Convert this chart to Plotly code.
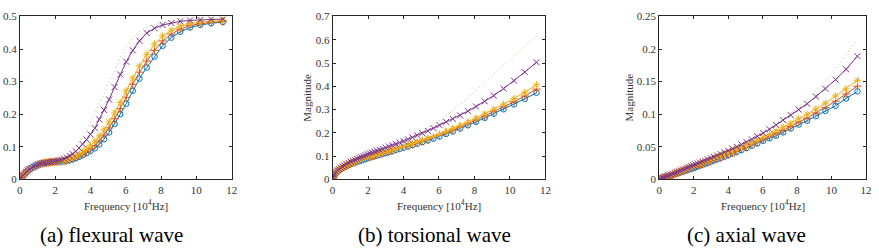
import plotly.graph_objects as go

# ---------------- data ----------------
freq = [0.01, 0.03, 0.07, 0.13, 0.2, 0.28, 0.36, 0.45, 0.55, 0.66, 0.78, 0.9, 1.02, 1.14, 1.26, 1.38,
        1.5, 1.62, 1.74, 1.86, 1.98, 2.1, 2.23, 2.37, 2.51, 2.66, 2.82, 2.99, 3.17, 3.36, 3.56, 3.78,
        4.0, 4.25, 4.5, 4.77, 5.06, 5.37, 5.69, 6.03, 6.4, 6.78, 7.19, 7.63, 8.09, 8.58, 9.09, 9.64,
        10.23, 10.84, 11.5]
freq_dotted = [0, 0.25, 0.5, 0.75, 1, 1.5, 2, 2.5, 3, 3.5, 4, 4.5, 5, 5.5, 6, 6.5, 7, 7.5, 8, 8.5,
               9, 9.5, 10, 10.5, 11, 11.5]

# (a) flexural wave
flex_blue = [0.001, 0.002, 0.005, 0.009, 0.013, 0.018, 0.023, 0.027, 0.031, 0.035, 0.039, 0.042, 0.045,
             0.047, 0.049, 0.05, 0.051, 0.052, 0.053, 0.053, 0.054, 0.054, 0.055,
             0.055, 0.056, 0.057, 0.059, 0.062, 0.065, 0.069, 0.074, 0.08, 0.087, 0.095, 0.107, 0.123,
             0.144, 0.17, 0.2, 0.232, 0.272, 0.309, 0.343, 0.377, 0.41, 0.435, 0.453, 0.466, 0.474,
             0.479, 0.483]
flex_red = [0.001, 0.002, 0.005, 0.009, 0.013, 0.018, 0.023, 0.027, 0.031, 0.035, 0.039, 0.042, 0.045,
            0.047, 0.049, 0.05, 0.051, 0.052, 0.053, 0.053, 0.054, 0.054, 0.055,
            0.055, 0.056, 0.058, 0.06, 0.063, 0.067, 0.072, 0.078, 0.085, 0.094, 0.104, 0.118, 0.136,
            0.158, 0.186, 0.217, 0.252, 0.292, 0.329, 0.363, 0.396, 0.425, 0.446, 0.461, 0.472, 0.478,
            0.482, 0.485]
flex_yellow = [0.001, 0.002, 0.005, 0.009, 0.013, 0.018, 0.023, 0.027, 0.031, 0.035, 0.039, 0.042, 0.045,
               0.047, 0.049, 0.05, 0.051, 0.052, 0.053, 0.053, 0.054, 0.054, 0.055,
               0.056, 0.058, 0.06, 0.063, 0.067, 0.071, 0.077, 0.084, 0.093, 0.103, 0.117, 0.133, 0.152,
               0.176, 0.204, 0.236, 0.272, 0.311, 0.348, 0.383, 0.415, 0.44, 0.458, 0.47, 0.478, 0.483,
               0.486, 0.488]
flex_purple = [0.001, 0.002, 0.005, 0.009, 0.013, 0.018, 0.023, 0.027, 0.031, 0.035, 0.039, 0.042, 0.045,
               0.047, 0.049, 0.05, 0.051, 0.052, 0.053, 0.054, 0.055, 0.056, 0.058,
               0.06, 0.063, 0.067, 0.072, 0.078, 0.086, 0.096, 0.108, 0.122, 0.138, 0.157, 0.184, 0.213,
               0.245, 0.283, 0.322, 0.361, 0.396, 0.425, 0.449, 0.464, 0.474, 0.48, 0.485, 0.488, 0.49,
               0.491, 0.492]
flex_green = [0, 0.015, 0.028, 0.037, 0.044, 0.051, 0.054, 0.062, 0.085, 0.125, 0.175, 0.23, 0.29, 0.35,
              0.405, 0.44, 0.462, 0.473, 0.479, 0.483, 0.486, 0.488, 0.489, 0.49, 0.491, 0.492]

# (b) torsional wave
tors_blue = [0.005, 0.01, 0.016, 0.022, 0.028, 0.034, 0.039, 0.044, 0.049, 0.053, 0.058, 0.062, 0.066,
             0.069, 0.073, 0.076, 0.079, 0.082, 0.085, 0.088, 0.091, 0.094, 0.097, 0.1, 0.103, 0.106,
             0.11, 0.113, 0.117, 0.121, 0.126, 0.131, 0.136, 0.141, 0.147, 0.153, 0.16, 0.167, 0.175,
             0.184, 0.195, 0.206, 0.218, 0.232, 0.247, 0.264, 0.282, 0.301, 0.322, 0.346, 0.372]
tors_red = [0.005, 0.01, 0.016, 0.023, 0.029, 0.035, 0.04, 0.045, 0.05, 0.054, 0.059, 0.063, 0.067,
            0.071, 0.074, 0.078, 0.081, 0.084, 0.087, 0.09, 0.093, 0.096, 0.099, 0.102, 0.105, 0.109,
            0.112, 0.116, 0.12, 0.124, 0.129, 0.134, 0.139, 0.145, 0.151, 0.157, 0.164, 0.172, 0.18,
            0.19, 0.201, 0.212, 0.225, 0.239, 0.255, 0.273, 0.291, 0.311, 0.333, 0.358, 0.388]
tors_yellow = [0.005, 0.011, 0.017, 0.023, 0.029, 0.035, 0.04, 0.046, 0.051, 0.055, 0.06, 0.064, 0.068,
               0.072, 0.076, 0.079, 0.083, 0.086, 0.089, 0.092, 0.095, 0.098, 0.101, 0.104, 0.108, 0.111,
               0.115, 0.119, 0.123, 0.127, 0.132, 0.137, 0.142, 0.148, 0.154, 0.161, 0.168, 0.176, 0.185,
               0.195, 0.206, 0.218, 0.231, 0.246, 0.263, 0.281, 0.301, 0.323, 0.347, 0.374, 0.406]
tors_purple = [0.006, 0.012, 0.019, 0.026, 0.033, 0.039, 0.044, 0.05, 0.055, 0.06, 0.066, 0.071, 0.076,
               0.08, 0.084, 0.088, 0.092, 0.096, 0.1, 0.104, 0.108, 0.112, 0.115, 0.119, 0.123, 0.127,
               0.131, 0.136, 0.141, 0.146, 0.152, 0.158, 0.164, 0.172, 0.18, 0.189, 0.198, 0.208, 0.22,
               0.233, 0.247, 0.26, 0.275, 0.293, 0.313, 0.335, 0.36, 0.39, 0.424, 0.461, 0.503]
tors_green = [0, 0.038, 0.054, 0.065, 0.076, 0.092, 0.108, 0.122, 0.135, 0.149, 0.164, 0.182, 0.203,
              0.226, 0.252, 0.28, 0.31, 0.342, 0.375, 0.41, 0.446, 0.48, 0.514, 0.548, 0.582, 0.615]

# (c) axial wave
axial_blue = [0.0001, 0.0003, 0.0006, 0.0011, 0.0017, 0.0024, 0.0031, 0.0039, 0.0048, 0.0058, 0.0068,
              0.0079, 0.009, 0.01, 0.0111, 0.0122, 0.0133, 0.0144, 0.0155, 0.0166, 0.0177, 0.0188, 0.02,
              0.0213, 0.0226, 0.024, 0.0255, 0.0271, 0.0289, 0.0307, 0.0327, 0.0348, 0.037, 0.0395,
              0.042, 0.045, 0.048, 0.0515, 0.055, 0.059, 0.063, 0.067, 0.072, 0.078, 0.084, 0.09, 0.097,
              0.105, 0.113, 0.124, 0.135]
axial_red = [0.0001, 0.0003, 0.0006, 0.0011, 0.0018, 0.0025, 0.0032, 0.004, 0.0049, 0.0059, 0.007,
             0.0081, 0.0092, 0.0103, 0.0114, 0.0126, 0.0137, 0.0148, 0.0159, 0.017, 0.0181, 0.0193,
             0.0205, 0.0218, 0.0232, 0.0246, 0.0262, 0.0279, 0.0297, 0.0316, 0.0336, 0.0357, 0.038,
             0.0406, 0.0433, 0.0463, 0.0495, 0.053, 0.057, 0.061, 0.065, 0.07, 0.075, 0.081, 0.088,
             0.094, 0.102, 0.11, 0.12, 0.131, 0.143]
axial_yellow = [0.0001, 0.0003, 0.0007, 0.0013, 0.002, 0.0028, 0.0036, 0.0045, 0.0055, 0.0066, 0.0078,
                0.009, 0.0102, 0.0114, 0.0126, 0.0138, 0.015, 0.0162, 0.0175, 0.0187, 0.02, 0.0212,
                0.0225, 0.0239, 0.0253, 0.0268, 0.0284, 0.0302, 0.0322, 0.0343, 0.0365, 0.0388, 0.041,
                0.0437, 0.0464, 0.0492, 0.052, 0.056, 0.06, 0.0645, 0.069, 0.074, 0.08, 0.086, 0.093,
                0.1, 0.108, 0.117, 0.128, 0.139, 0.152]
axial_purple = [0.0001, 0.0003, 0.0008, 0.0015, 0.0022, 0.0031, 0.004, 0.005, 0.0061, 0.0073, 0.0086,
                0.0099, 0.0112, 0.0125, 0.0138, 0.0151, 0.0164, 0.0177, 0.019, 0.0203, 0.0216, 0.0229,
                0.0243, 0.0258, 0.0273, 0.0289, 0.0306, 0.0325, 0.0345, 0.0366, 0.0389, 0.0414, 0.044,
                0.047, 0.05, 0.0534, 0.0572, 0.0614, 0.066, 0.0711, 0.077, 0.0835, 0.091, 0.0985, 0.107,
                0.116, 0.127, 0.139, 0.153, 0.169, 0.189]
axial_green = [0, 0.0028, 0.0055, 0.0083, 0.011, 0.0165, 0.022, 0.0275, 0.0333, 0.039, 0.045, 0.051,
               0.0575, 0.064, 0.071, 0.079, 0.088, 0.099, 0.11, 0.122, 0.134, 0.147, 0.162, 0.179,
               0.197, 0.215]

x_ticks = [0, 2, 4, 6, 8, 10, 12]
flex_yticks = [0, 0.1, 0.2, 0.3, 0.4, 0.5]
flex_yticklabels = ["0", "0.1", "0.2", "0.3", "0.4", "0.5"]
tors_yticks = [0, 0.1, 0.2, 0.3, 0.4, 0.5, 0.6, 0.7]
tors_yticklabels = ["0", "0.1", "0.2", "0.3", "0.4", "0.5", "0.6", "0.7"]
axial_yticks = [0, 0.05, 0.1, 0.15, 0.2, 0.25]
axial_yticklabels = ["0", "0.05", "0.1", "0.15", "0.2", "0.25"]

x_title = "Frequency [10<sup>4</sup>Hz]"
y_title = "Magnitude"
captions = ["(a) flexural wave", "(b) torsional wave", "(c) axial wave"]

# ---------------- styling ----------------
W, H = 879, 252
FONT = "Liberation Serif"
AX = "#262626"
C_BLUE, C_RED, C_YEL, C_PUR, C_GRN = "#0072BD", "#D95319", "#EDB120", "#7E2F8E", "#77AC30"

plot_x = [(17, 231), (333, 548), (663, 872)]
plot_y = (11, 182)

fig = go.Figure()

panels = [
    (flex_blue, flex_red, flex_yellow, flex_purple, flex_green, flex_yticks, flex_yticklabels, 0.5),
    (tors_blue, tors_red, tors_yellow, tors_purple, tors_green, tors_yticks, tors_yticklabels, 0.7),
    (axial_blue, axial_red, axial_yellow, axial_purple, axial_green, axial_yticks, axial_yticklabels, 0.25),
]

marker_specs = [
    (C_BLUE, "circle-open", 5.5),
    (C_RED, "cross-thin-open", 6),
    (C_YEL, "asterisk-open", 6),
    (C_PUR, "x-thin-open", 6),
]

for i, (b, r, yv, p, g, yt, ytl, ymax) in enumerate(panels):
    sfx = "" if i == 0 else str(i + 1)
    xa, ya = "x" + sfx, "y" + sfx
    for series, (col, sym, sz) in zip([b, r, yv, p], marker_specs):
        fig.add_trace(go.Scatter(
            x=freq, y=series, mode="lines+markers", xaxis=xa, yaxis=ya,
            line=dict(color=col, width=1),
            marker=dict(symbol=sym, size=sz, color=col, line=dict(color=col, width=1)),
            showlegend=False, hoverinfo="skip"))
    fig.add_trace(go.Scatter(
        x=freq_dotted, y=g, mode="lines", xaxis=xa, yaxis=ya, opacity=0.75,
        line=dict(color=C_GRN, width=0.8, dash="1px,3px", shape="spline"),
        showlegend=False, hoverinfo="skip"))

    x0, x1 = plot_x[i]
    axis_common = dict(showline=True, linecolor=AX, linewidth=1, mirror="ticks",
                       ticks="inside", ticklen=3, tickwidth=1, tickcolor=AX,
                       showgrid=False, zeroline=False,
                       tickfont=dict(family=FONT, size=11, color="#333333"))
    fig.update_layout(**{
        "xaxis" + sfx: dict(domain=[x0 / W, x1 / W], range=[0, 12], tickvals=x_ticks,
                            ticktext=[str(t) for t in x_ticks], anchor=ya, **axis_common),
        "yaxis" + sfx: dict(domain=[1 - plot_y[1] / H, 1 - plot_y[0] / H], range=[0, ymax],
                            tickvals=yt, ticktext=ytl, anchor=xa, **axis_common),
    })

annotations = []
caption_cx = [110, 436, 751]
for i in range(3):
    x0, x1 = plot_x[i]
    cx = (x0 + x1) / 2
    annotations.append(dict(x=cx / W, y=1 - 209 / H, xref="paper", yref="paper", text=x_title,
                            showarrow=False, xanchor="center", yanchor="middle",
                            font=dict(family=FONT, size=11, color="#333333")))
    annotations.append(dict(x=caption_cx[i] / W, y=1 - 240 / H, xref="paper", yref="paper",
                            text=captions[i], showarrow=False, xanchor="center", yanchor="middle",
                            font=dict(family=FONT, size=21, color="#000000")))
for xc in (307, 632):
    annotations.append(dict(x=xc / W, y=1 - 96.5 / H, xref="paper", yref="paper", text=y_title,
                            showarrow=False, textangle=-90, xanchor="center", yanchor="middle",
                            font=dict(family=FONT, size=11, color="#333333")))

fig.update_layout(width=W, height=H, margin=dict(l=0, r=0, t=0, b=0),
                  paper_bgcolor="white", plot_bgcolor="white",
                  font=dict(family=FONT),
                  annotations=annotations, showlegend=False)

fig.write_html("out.html", config={"displayModeBar": False})
